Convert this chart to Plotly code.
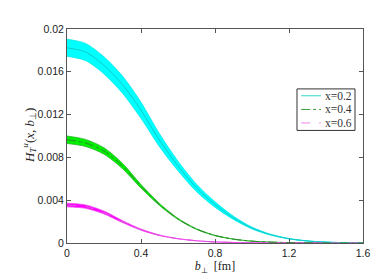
import plotly.graph_objects as go

# impact parameter b_perp [fm]
b_vals = [0.0, 0.1, 0.2, 0.3, 0.4, 0.5, 0.6, 0.7, 0.8, 0.9, 1.0, 1.1, 1.2, 1.3, 1.4, 1.5, 1.6]

# x = 0.2 (units of 1e-3)
x02_mid = [18.25, 17.85, 16.6, 14.8, 12.4, 9.6, 7.2, 5.15, 3.6, 2.35, 1.4, 0.78, 0.4, 0.19, 0.08, 0.03, 0.01]
x02_hi = [19.05, 18.65, 17.4, 15.6, 13.15, 10.2, 7.65, 5.5, 3.85, 2.5, 1.48, 0.82, 0.42, 0.2, 0.085, 0.032, 0.011]
x02_lo = [17.45, 17.05, 15.8, 14.0, 11.65, 9.0, 6.75, 4.8, 3.35, 2.2, 1.32, 0.74, 0.38, 0.18, 0.075, 0.028, 0.009]

# x = 0.4
x04_mid = [9.65, 9.35, 8.6, 7.2, 5.3, 3.6, 2.25, 1.3, 0.7, 0.36, 0.17, 0.08, 0.035, 0.015, 0.005, 0.002, 0.001]
x04_hi = [10.0, 9.68, 8.9, 7.45, 5.47, 3.7, 2.3, 1.33, 0.72, 0.37, 0.175, 0.082, 0.036, 0.015, 0.005, 0.002, 0.001]
x04_lo = [9.3, 9.02, 8.3, 6.95, 5.13, 3.5, 2.2, 1.27, 0.68, 0.35, 0.165, 0.078, 0.034, 0.015, 0.005, 0.002, 0.001]

# x = 0.6
x06_mid = [3.55, 3.4, 2.85, 2.0, 1.25, 0.72, 0.4, 0.21, 0.1, 0.05, 0.022, 0.01, 0.004, 0.002, 0.001, 0.0, 0.0]
x06_hi = [3.72, 3.56, 2.98, 2.09, 1.3, 0.75, 0.41, 0.215, 0.102, 0.051, 0.022, 0.01, 0.004, 0.002, 0.001, 0.0, 0.0]
x06_lo = [3.38, 3.24, 2.72, 1.91, 1.2, 0.69, 0.39, 0.205, 0.098, 0.049, 0.022, 0.01, 0.004, 0.002, 0.001, 0.0, 0.0]

series_names = ["x=0.2", "x=0.4", "x=0.6"]

x_ticks = [0, 0.4, 0.8, 1.2, 1.6]
x_ticktext = ["0", "0.4", "0.8", "1.2", "1.6"]
y_ticks = [0, 0.004, 0.008, 0.012, 0.016, 0.02]
y_ticktext = ["0", "0.004", "0.008", "0.012", "0.016", "0.02"]

styles = [
    # band fill, band edge, centre line, dash
    ("#00FFFF", "#00E8E8", "#14C8C8", "solid"),
    ("#00EE00", "#2DB52D", "#2E8B2E", "dashdot"),
    ("#FF00FF", "#EE44EE", "#E055E0", "dash"),
]
data = [(x02_mid, x02_hi, x02_lo), (x04_mid, x04_hi, x04_lo), (x06_mid, x06_hi, x06_lo)]


def s(v):
    return [a * 1e-3 for a in v]


fig = go.Figure()
for (mid, hi, lo), (band, edge, linec, dash) in zip(data, styles):
    fig.add_trace(go.Scatter(x=b_vals, y=s(lo), mode="lines",
                             line=dict(width=0.8, shape="spline", smoothing=0.8, color=edge),
                             showlegend=False, hoverinfo="skip"))
    fig.add_trace(go.Scatter(x=b_vals, y=s(hi), mode="lines",
                             line=dict(width=0.8, shape="spline", smoothing=0.8, color=edge),
                             fill="tonexty", fillcolor=band, showlegend=False, hoverinfo="skip"))
for name, (mid, hi, lo), (band, edge, linec, dash) in zip(series_names, data, styles):
    fig.add_trace(go.Scatter(x=b_vals, y=s(mid), mode="lines", name=name, showlegend=False,
                             line=dict(width=1, shape="spline", smoothing=0.8, color=linec, dash=dash)))

axis_common = dict(
    showgrid=False, zeroline=False, showline=True, linecolor="#555555", linewidth=1,
    mirror="ticks", ticks="inside", ticklen=4, tickcolor="#555555",
    tickfont=dict(family="Liberation Sans, Arial", size=10.5, color="#222222"),
)

# manual legend (paper coordinates)
box = dict(x0=0.777, x1=0.973, y0=0.526, y1=0.720)
row_y = [0.688, 0.624, 0.561]
shapes = [dict(type="rect", xref="paper", yref="paper", x0=box["x0"], x1=box["x1"],
               y0=box["y0"], y1=box["y1"], line=dict(color="#333333", width=1),
               fillcolor="white", layer="above")]
annotations = []
legend_line_colors = ["#30D8D0", "#3A9A3A", "#EE82EE"]
for name, ry, (band, edge, linec, dash), lc in zip(series_names, row_y, styles, legend_line_colors):
    shapes.append(dict(type="line", xref="paper", yref="paper", x0=0.791, x1=0.858, y0=ry, y1=ry,
                       line=dict(color=lc, width=1, dash=dash), layer="above"))
    annotations.append(dict(xref="paper", yref="paper", x=0.864, y=ry, text=name, showarrow=False,
                            xanchor="left", yanchor="middle",
                            font=dict(family="Liberation Serif, Times New Roman", size=11.5, color="#333333")))

# y-axis title placed as rotated text
annotations.append(dict(xref="paper", yref="paper", x=-0.128, y=0.5, xanchor="center", yanchor="middle",
                        textangle=-90, showarrow=False,
                        text="<i>H</i><sub><i>T</i></sub><sup><i>u</i></sup>(<i>x</i>, <i>b</i><sub>⊥</sub>)",
                        font=dict(family="Liberation Serif, Times New Roman", size=13, color="#222222")))

fig.update_layout(
    width=382, height=275,
    margin=dict(l=59, r=27, t=21, b=32),
    paper_bgcolor="white", plot_bgcolor="white",
    xaxis=dict(range=[0, 1.6], tickvals=x_ticks, ticktext=x_ticktext,
               title=dict(text="<i>b</i><sub>⊥</sub>  [fm]", standoff=4,
                          font=dict(family="Liberation Serif, Times New Roman", size=12, color="#222222")),
               **axis_common),
    yaxis=dict(range=[0, 0.02], tickvals=y_ticks, ticktext=y_ticktext, **axis_common),
    shapes=shapes,
    annotations=annotations,
    showlegend=False,
)

fig.write_html("out.html")
